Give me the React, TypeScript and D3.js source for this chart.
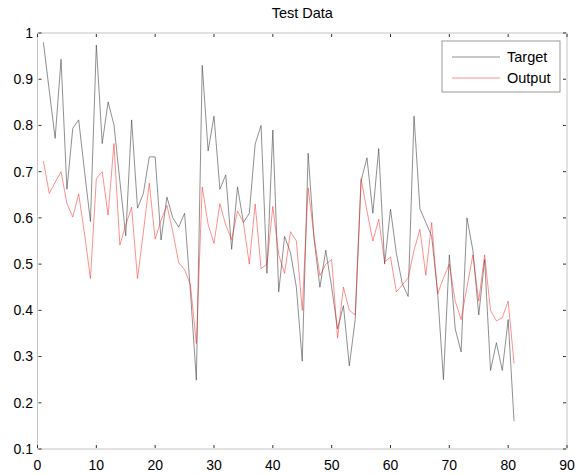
import React from "react";
import * as d3 from "d3";

const xIndex: number[] = Array.from({ length: 81 }, (_, k) => k + 1);

const target: number[] = [
  0.98, 0.875, 0.772, 0.943, 0.662, 0.794, 0.812, 0.70, 0.592, 0.974,
  0.761, 0.851, 0.801, 0.68, 0.561, 0.812, 0.621, 0.653, 0.732, 0.732,
  0.552, 0.645, 0.60, 0.58, 0.61, 0.44, 0.249, 0.93, 0.745, 0.82,
  0.662, 0.693, 0.532, 0.667, 0.59, 0.61, 0.76, 0.80, 0.48, 0.79,
  0.44, 0.56, 0.525, 0.45, 0.29, 0.74, 0.555, 0.45, 0.53, 0.45,
  0.36, 0.41, 0.28, 0.38, 0.68, 0.73, 0.61, 0.75, 0.50, 0.619,
  0.523, 0.458, 0.43, 0.82, 0.62, 0.59, 0.56, 0.44, 0.25, 0.52,
  0.36, 0.31, 0.60, 0.53, 0.39, 0.51, 0.27, 0.33, 0.27, 0.38,
  0.16,
];

const output: number[] = [
  0.723, 0.653, 0.677, 0.70, 0.631, 0.602, 0.652, 0.565, 0.469, 0.685,
  0.70, 0.606, 0.761, 0.541, 0.585, 0.623, 0.469, 0.57, 0.675, 0.554,
  0.595, 0.627, 0.57, 0.503, 0.488, 0.455, 0.328, 0.667, 0.586, 0.545,
  0.631, 0.584, 0.553, 0.615, 0.59, 0.50, 0.63, 0.49, 0.50, 0.625,
  0.52, 0.48, 0.57, 0.55, 0.40, 0.665, 0.56, 0.475, 0.50, 0.51,
  0.34, 0.45, 0.40, 0.39, 0.685, 0.615, 0.55, 0.597, 0.505, 0.515,
  0.44, 0.455, 0.47, 0.53, 0.575, 0.476, 0.59, 0.435, 0.47, 0.50,
  0.42, 0.38, 0.45, 0.52, 0.42, 0.52, 0.40, 0.377, 0.384, 0.42,
  0.285,
];

const xTicks: number[] = [0, 10, 20, 30, 40, 50, 60, 70, 80, 90];
const yTicks: number[] = [0.1, 0.2, 0.3, 0.4, 0.5, 0.6, 0.7, 0.8, 0.9, 1];
const yTickLabels: string[] = ["0.1", "0.2", "0.3", "0.4", "0.5", "0.6", "0.7", "0.8", "0.9", "1"];
const seriesNames: string[] = ["Target", "Output"];
const title = "Test Data";

const W = 576;
const H = 475;
const left = 37.5;
const right = 567;
const top = 33;
const bottom = 449;

export default function App() {
  const x = d3.scaleLinear().domain([0, 90]).range([left, right]);
  const y = d3.scaleLinear().domain([0.1, 1]).range([bottom, top]);
  const line = d3
    .line<number>()
    .x((_, i) => x(xIndex[i]))
    .y((d) => y(d));

  const font = "Arial, 'Liberation Sans', sans-serif";
  const tickColor = "#333";
  const boxColor = "#c4c4c4";

  return (
    <svg
      width={W}
      height={H}
      style={{ position: "absolute", left: 0, top: 0, background: "#fff" }}
      fontFamily={font}
    >
      <rect x={0} y={0} width={W} height={H} fill="#fff" />
      {/* data lines */}
      <path d={line(target) || ""} fill="none" stroke="#444" strokeWidth={0.6} />
      <path d={line(output) || ""} fill="none" stroke="#ff2020" strokeWidth={0.5} />

      {/* axis box */}
      <rect
        x={left}
        y={top}
        width={right - left}
        height={bottom - top}
        fill="none"
        stroke={boxColor}
        strokeWidth={1}
      />
      {/* x ticks */}
      {xTicks.map((t) => (
        <g key={"x" + t}>
          <line x1={x(t)} x2={x(t)} y1={bottom - 1} y2={bottom - 4} stroke={tickColor} strokeWidth={1} />
          <line x1={x(t)} x2={x(t)} y1={top + 1} y2={top + 4} stroke={tickColor} strokeWidth={1} />
          <text x={x(t)} y={470} fontSize={14} textAnchor="middle" fill="#000">
            {t}
          </text>
        </g>
      ))}
      {/* y ticks */}
      {yTicks.map((t, i) => (
        <g key={"y" + t}>
          <line x1={left + 1} x2={left + 4} y1={y(t)} y2={y(t)} stroke={tickColor} strokeWidth={1} />
          <line x1={right - 1} x2={right - 4} y1={y(t)} y2={y(t)} stroke={tickColor} strokeWidth={1} />
          <text x={33} y={y(t)} dy="0.35em" fontSize={14} textAnchor="end" fill="#000">
            {yTickLabels[i]}
          </text>
        </g>
      ))}

      {/* title */}
      <text x={(left + right) / 2} y={18} fontSize={14.5} textAnchor="middle" fill="#000">
        {title}
      </text>

      {/* legend */}
      <rect x={442} y={41} width={118} height={51} fill="#fff" stroke="#999" strokeWidth={1} />
      <line x1={452} x2={500} y1={57} y2={57} stroke="#444" strokeWidth={0.6} />
      <line x1={452} x2={500} y1={78} y2={78} stroke="#ff2020" strokeWidth={0.5} />
      <text x={507} y={57} dy="0.35em" fontSize={14.5} fill="#000">
        {seriesNames[0]}
      </text>
      <text x={507} y={78} dy="0.35em" fontSize={14.5} fill="#000">
        {seriesNames[1]}
      </text>
    </svg>
  );
}
